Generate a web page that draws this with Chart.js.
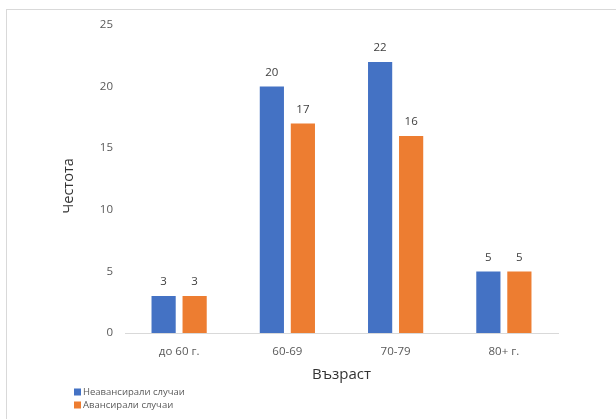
<!DOCTYPE html>
<html lang="bg">
<head>
<meta charset="UTF-8">
<title>Честота по възраст</title>
<script src="https://cdn.jsdelivr.net/npm/chart.js"></script>
<style>
  html, body { margin: 0; padding: 0; background: #fff; overflow: hidden; }
  .chart-box { position: absolute; left: 0; top: 0; width: 616px; height: 419px; }
  .frame {
    position: absolute; left: 6px; top: 9px; width: 620px; height: 420px;
    border-top: 1px solid #d9d9d9; border-left: 1px solid #d9d9d9;
    pointer-events: none;
  }
</style>
</head>
<body>
<div class="chart-box"><canvas id="ageChart"></canvas></div>
<div class="frame"></div>
<script>
// age groups and case counts
const ageGroups = ['до 60 г.', '60-69', '70-79', '80+ г.'];
const notAdvanced = [3, 20, 22, 5];
const advanced = [3, 17, 16, 5];
const yTicks = [0, 5, 10, 15, 20, 25];

const FONT = '"Open Sans", "Noto Sans", sans-serif';

// value above every bar
const barValueLabels = {
    id: 'barValueLabels',
    afterDatasetsDraw(chart) {
        const ctx = chart.ctx;
        ctx.save();
        ctx.font = '11.5px ' + FONT;
        ctx.fillStyle = '#404040';
        ctx.textAlign = 'center';
        ctx.textBaseline = 'middle';
        chart.data.datasets.forEach((ds, i) => {
            chart.getDatasetMeta(i).data.forEach((bar, j) => {
                ctx.fillText(ds.data[j], bar.x, bar.y - 14);
            });
        });
        ctx.restore();
    }
};

// vertical y axis title, sitting a little below the middle of the plot
const yAxisTitle = {
    id: 'yAxisTitle',
    afterDraw(chart, args, opts) {
        const { ctx, chartArea } = chart;
        ctx.save();
        ctx.font = opts.fontSize + 'px ' + FONT;
        ctx.fillStyle = '#333';
        ctx.textAlign = 'center';
        ctx.textBaseline = 'middle';
        ctx.translate(chartArea.left - opts.offsetX, (chartArea.top + chartArea.bottom) / 2 + opts.shiftY);
        ctx.rotate(-Math.PI / 2);
        ctx.fillText(opts.text, 0, 0);
        ctx.restore();
    }
};

// stacked legend in the lower left corner
const stackedLegend = {
    id: 'stackedLegend',
    afterDraw(chart, args, opts) {
        const ctx = chart.ctx;
        ctx.save();
        ctx.font = opts.fontSize + 'px ' + FONT;
        ctx.textBaseline = 'middle';
        ctx.textAlign = 'left';
        chart.data.datasets.forEach((ds, i) => {
            const y = opts.top + i * opts.rowGap;
            ctx.fillStyle = ds.backgroundColor;
            ctx.fillRect(opts.left, y - opts.box / 2, opts.box, opts.box);
            ctx.fillStyle = '#595959';
            ctx.fillText(ds.label, opts.left + opts.box + 2, y);
        });
        ctx.restore();
    }
};

const ctx = document.getElementById('ageChart').getContext('2d');
new Chart(ctx, {
    type: 'bar',
    data: {
        labels: ageGroups,
        datasets: [
            {
                label: 'Неавансирали случаи',
                data: notAdvanced,
                backgroundColor: '#4472C4',
                categoryPercentage: 0.573,
                barPercentage: 0.78
            },
            {
                label: 'Авансирали случаи',
                data: advanced,
                backgroundColor: '#ED7D31',
                categoryPercentage: 0.573,
                barPercentage: 0.78
            }
        ]
    },
    options: {
        responsive: true,
        maintainAspectRatio: false,
        animation: false,
        layout: {
            padding: { left: 50, right: 58, top: 25, bottom: 34 }
        },
        plugins: {
            legend: { display: false },
            tooltip: { enabled: false },
            yAxisTitle: { text: 'Честота', fontSize: 14.5, offsetX: 56, shiftY: 7 },
            stackedLegend: { left: 74, top: 392, rowGap: 13, box: 7, fontSize: 9.5 }
        },
        scales: {
            x: {
                grid: { display: false, drawTicks: false },
                border: { display: true, color: '#d9d9d9', width: 1 },
                ticks: {
                    color: '#595959',
                    font: { family: FONT, size: 11.5 },
                    padding: 12
                },
                title: {
                    display: true,
                    text: 'Възраст',
                    color: '#333',
                    font: { family: FONT, size: 15 },
                    padding: { top: 0, bottom: 1 }
                },
                afterFit(scale) { scale.height = 52; }
            },
            y: {
                min: 0,
                max: 25,
                grid: { display: false, drawTicks: false },
                border: { display: false },
                ticks: {
                    color: '#595959',
                    font: { family: FONT, size: 11.5 },
                    padding: 12
                },
                afterBuildTicks(scale) {
                    scale.ticks = yTicks.map(v => ({ value: v }));
                },
                afterFit(scale) { scale.width = 75; }
            }
        }
    },
    plugins: [barValueLabels, yAxisTitle, stackedLegend]
});
</script>
</body>
</html>
